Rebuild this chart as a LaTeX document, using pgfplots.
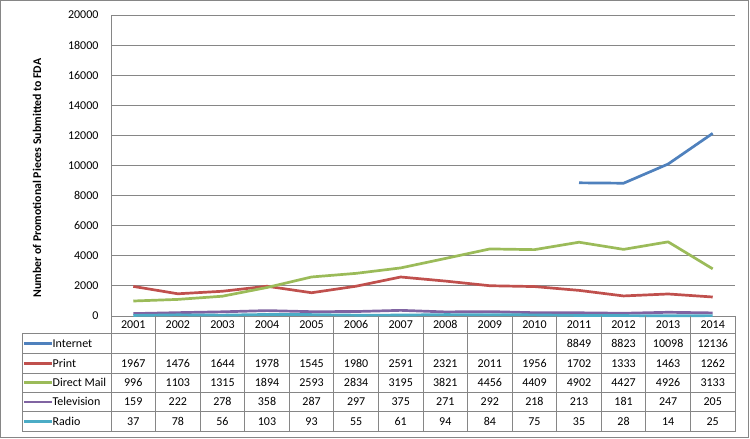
\documentclass[border=0pt]{standalone}
\usepackage{pgfplots}
\pgfplotsset{compat=1.18}
\usepackage{fontspec}
\setmainfont{Carlito}
\definecolor{cInt}{RGB}{79,129,189}
\definecolor{cPrint}{RGB}{192,80,77}
\definecolor{cMail}{RGB}{155,187,89}
\definecolor{cTV}{RGB}{128,100,162}
\definecolor{cRadio}{RGB}{75,172,198}
\definecolor{gridc}{RGB}{134,134,134}
\begin{document}
\begin{tikzpicture}[x=1pt,y=1pt, font=\fontsize{12}{14}\selectfont]
\useasboundingbox (0,0) rectangle (750,439);
\fill[white] (0,0) rectangle (750,439);
\draw[gridc, line width=0.8pt] (0.8,1.5) rectangle (748.5,438.3);
\begin{axis}[at={(111pt,123pt)}, anchor=south west, scale only axis,
  width=624pt, height=301pt,
  xmin=-0.5, xmax=13.5, ymin=0, ymax=20000, ytick distance=2000,
  xtick=\empty, ymajorgrids, grid style={gridc, line width=0.8pt},
  axis lines=left, axis line style={gridc, line width=0.8pt, -},
  major tick length=0, scaled y ticks=false,
  /pgf/number format/1000 sep={}, /pgf/number format/assume math mode=true,
  yticklabel style={font=\fontsize{12}{14}\selectfont, xshift=-9pt},
  clip=false,
  every axis plot/.append style={line width=2.7pt, line join=round, mark=none}]
\addplot[cInt] coordinates {(10,8849)(11,8823)(12,10098)(13,12136)};
\addplot[cPrint] coordinates {(0,1967)(1,1476)(2,1644)(3,1978)(4,1545)(5,1980)(6,2591)(7,2321)(8,2011)(9,1956)(10,1702)(11,1333)(12,1463)(13,1262)};
\addplot[cMail] coordinates {(0,996)(1,1103)(2,1315)(3,1894)(4,2593)(5,2834)(6,3195)(7,3821)(8,4456)(9,4409)(10,4902)(11,4427)(12,4926)(13,3133)};
\addplot[cTV] coordinates {(0,159)(1,222)(2,278)(3,358)(4,287)(5,297)(6,375)(7,271)(8,292)(9,218)(10,213)(11,181)(12,247)(13,205)};
\addplot[cRadio] coordinates {(0,37)(1,78)(2,56)(3,103)(4,93)(5,55)(6,61)(7,94)(8,84)(9,75)(10,35)(11,28)(12,14)(13,25)};
\end{axis}
\node[rotate=90, font=\bfseries\fontsize{11.8}{14}\selectfont] at (37,261) {Number of Promotional Pieces Submitted to FDA};
\def\cw{44.5714}
\begin{scope}[gridc, line width=0.8pt]
\foreach \k in {0,...,14} \draw ({111+\k*\cw},123) -- ({111+\k*\cw},7.3);
\draw (22,105.7) -- (22,7.3);
\foreach \yy in {105.7,85.7,65.7,46.7,27.3,7.3} \draw (22,\yy) -- (735,\yy);
\end{scope}
\tikzset{cell/.style={text height=7.7pt, text depth=0pt, inner sep=0pt}}
\foreach \v [count=\i from 0] in {2001,2002,2003,2004,2005,2006,2007,2008,2009,2010,2011,2012,2013,2014}
  \node[cell] at ({111+(\i+0.5)*\cw},114.3) {\v};
\foreach \v [count=\i from 10] in {8849,8823,10098,12136}
  \node[cell] at ({111+(\i+0.5)*\cw},95.7) {\v};
\foreach \v [count=\i from 0] in {1967,1476,1644,1978,1545,1980,2591,2321,2011,1956,1702,1333,1463,1262}
  \node[cell] at ({111+(\i+0.5)*\cw},75.7) {\v};
\foreach \v [count=\i from 0] in {996,1103,1315,1894,2593,2834,3195,3821,4456,4409,4902,4427,4926,3133}
  \node[cell] at ({111+(\i+0.5)*\cw},56.2) {\v};
\foreach \v [count=\i from 0] in {159,222,278,358,287,297,375,271,292,218,213,181,247,205}
  \node[cell] at ({111+(\i+0.5)*\cw},37) {\v};
\foreach \v [count=\i from 0] in {37,78,56,103,93,55,61,94,84,75,35,28,14,25}
  \node[cell] at ({111+(\i+0.5)*\cw},17.3) {\v};
\foreach \c/\n/\yy in {cInt/Internet/95.7, cPrint/Print/75.7, cMail/Direct Mail/56.2, cTV/Television/37, cRadio/Radio/17.3} {
  \draw[\c, line width=2.7pt] (24,\yy) -- (52,\yy);
  \node[cell, anchor=west] at (52.5,\yy) {\n};
}
\end{tikzpicture}
\end{document}
